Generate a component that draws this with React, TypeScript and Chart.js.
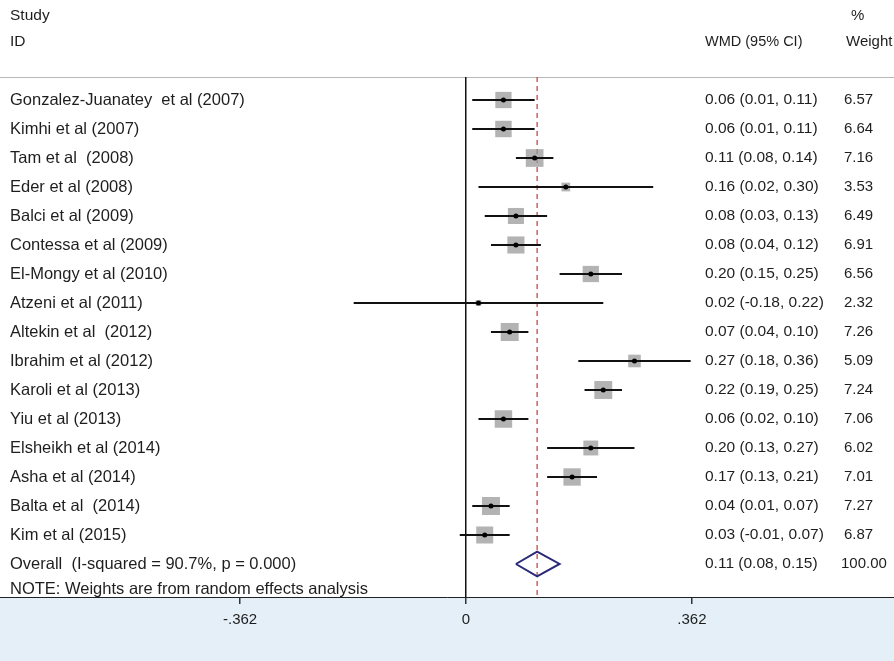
import React, { useEffect, useRef } from "react";
import { Chart, registerables } from "chart.js";

Chart.register(...registerables);

const studies = [
  "Gonzalez-Juanatey  et al (2007)",
  "Kimhi et al (2007)",
  "Tam et al  (2008)",
  "Eder et al (2008)",
  "Balci et al (2009)",
  "Contessa et al (2009)",
  "El-Mongy et al (2010)",
  "Atzeni et al (2011)",
  "Altekin et al  (2012)",
  "Ibrahim et al (2012)",
  "Karoli et al (2013)",
  "Yiu et al (2013)",
  "Elsheikh et al (2014)",
  "Asha et al (2014)",
  "Balta et al  (2014)",
  "Kim et al (2015)",
];
const wmd = [0.06, 0.06, 0.11, 0.16, 0.08, 0.08, 0.2, 0.02, 0.07, 0.27, 0.22, 0.06, 0.2, 0.17, 0.04, 0.03];
const lower = [0.01, 0.01, 0.08, 0.02, 0.03, 0.04, 0.15, -0.18, 0.04, 0.18, 0.19, 0.02, 0.13, 0.13, 0.01, -0.01];
const upper = [0.11, 0.11, 0.14, 0.3, 0.13, 0.12, 0.25, 0.22, 0.1, 0.36, 0.25, 0.1, 0.27, 0.21, 0.07, 0.07];
const weights = [6.57, 6.64, 7.16, 3.53, 6.49, 6.91, 6.56, 2.32, 7.26, 5.09, 7.24, 7.06, 6.02, 7.01, 7.27, 6.87];

const overallLabel = "Overall  (I-squared = 90.7%, p = 0.000)";
const overallEst = 0.114;
const overallLower = 0.08;
const overallUpper = 0.15;
const overallText = "0.11 (0.08, 0.15)";
const overallWeight = "100.00";
const noteText = "NOTE: Weights are from random effects analysis";

const xTickValues = [-0.362, 0, 0.362];
const xTickLabels = ["-.362", "0", ".362"];

const FONT = '"Liberation Sans", Arial, Helvetica, sans-serif';
const TEXT = "#1e1e1e";

const X_MIN = -0.7468;
const X_MAX = 0.6859;
const Y_MIN = -0.793;
const Y_MAX = 17.138;

const fmt = (v: number) => v.toFixed(2);

export default function App() {
  const ref = useRef<HTMLCanvasElement>(null);

  useEffect(() => {
    document.body.style.margin = "0";
    const canvas = ref.current!;
    const overallRow = studies.length;
    const noteRow = studies.length + 1;

    const datasets: any[] = [];
    datasets.push({
      type: "scatter",
      data: [
        { x: overallEst, y: Y_MIN },
        { x: overallEst, y: Y_MAX },
      ],
      showLine: true,
      borderColor: "#c44a45",
      borderWidth: 1.3,
      borderDash: [5, 4],
      pointRadius: 0,
      order: 5,
    });
    datasets.push({
      type: "scatter",
      data: wmd.map((v, i) => ({ x: v, y: i })),
      pointStyle: "rect",
      pointRadius: (c: any) => weights[c.dataIndex] * 1.75,
      backgroundColor: "rgba(150,150,150,0.72)",
      borderWidth: 0,
      order: 4,
    });
    studies.forEach((_, i) => {
      datasets.push({
        type: "scatter",
        data: [
          { x: lower[i], y: i },
          { x: upper[i], y: i },
        ],
        showLine: true,
        borderColor: "#111",
        borderWidth: 2,
        pointRadius: 0,
        order: 3,
      });
    });
    datasets.push({
      type: "scatter",
      data: wmd.map((v, i) => ({ x: v, y: i })),
      pointStyle: "circle",
      pointRadius: 2.5,
      backgroundColor: "#000",
      borderWidth: 0,
      order: 2,
    });
    const dh = 0.43;
    datasets.push({
      type: "scatter",
      data: [
        { x: overallLower, y: overallRow },
        { x: overallEst, y: overallRow - dh },
        { x: overallUpper, y: overallRow },
        { x: overallEst, y: overallRow + dh },
        { x: overallLower, y: overallRow },
      ],
      showLine: true,
      borderColor: "#2a2878",
      borderWidth: 2,
      pointRadius: 0,
      tension: 0,
      order: 1,
    });

    const bgPlugin = {
      id: "bg",
      beforeDraw(chart: any) {
        const { ctx, width, height, chartArea } = chart;
        ctx.save();
        ctx.fillStyle = "#ffffff";
        ctx.fillRect(0, 0, width, height);
        ctx.fillStyle = "#e4eff7";
        ctx.fillRect(0, chartArea.bottom, width, height - chartArea.bottom);
        ctx.strokeStyle = "#b8b8b8";
        ctx.lineWidth = 1;
        ctx.beginPath();
        ctx.moveTo(0, chartArea.top + 0.5);
        ctx.lineTo(width, chartArea.top + 0.5);
        ctx.stroke();
        ctx.restore();
      },
    };

    const textPlugin = {
      id: "texts",
      afterDraw(chart: any) {
        const { ctx } = chart;
        const y = chart.scales.y;
        ctx.save();
        ctx.fillStyle = TEXT;
        ctx.textBaseline = "middle";
        ctx.textAlign = "left";
        ctx.font = `15.5px ${FONT}`;
        ctx.fillText("Study", 10, 16);
        ctx.fillText("ID", 10, 42);
        ctx.font = `14.5px ${FONT}`;
        ctx.fillText("WMD (95% CI)", 705, 42);
        ctx.font = `15px ${FONT}`;
        ctx.fillText("%", 851, 16);
        ctx.fillText("Weight", 846, 42);
        studies.forEach((s, i) => {
          const py = y.getPixelForValue(i);
          ctx.font = `16.5px ${FONT}`;
          ctx.fillText(s, 10, py);
          ctx.font = `15.5px ${FONT}`;
          ctx.fillText(`${fmt(wmd[i])} (${fmt(lower[i])}, ${fmt(upper[i])})`, 705, py);
          ctx.font = `15px ${FONT}`;
          ctx.fillText(fmt(weights[i]), 844, py);
        });
        const oy = y.getPixelForValue(overallRow);
        ctx.font = `16.5px ${FONT}`;
        ctx.fillText(overallLabel, 10, oy);
        ctx.font = `15.5px ${FONT}`;
        ctx.fillText(overallText, 705, oy);
        ctx.font = `15px ${FONT}`;
        ctx.fillText(overallWeight, 841, oy);
        ctx.font = `16.5px ${FONT}`;
        ctx.fillText(noteText, 10, y.getPixelForValue(noteRow) - 4);
        ctx.restore();
      },
    };

    const chart = new Chart(canvas, {
      type: "scatter",
      data: { datasets },
      plugins: [bgPlugin, textPlugin],
      options: {
        animation: false,
        responsive: false,
        layout: { autoPadding: false, padding: { top: 77, left: 0, right: 0, bottom: 0 } },
        plugins: { legend: { display: false }, tooltip: { enabled: false } },
        scales: {
          x: {
            type: "linear",
            min: X_MIN,
            max: X_MAX,
            afterBuildTicks: (s: any) => {
              s.ticks = xTickValues.map((value) => ({ value }));
            },
            afterFit: (s: any) => {
              s.height = 64;
              s.paddingLeft = 0;
              s.paddingRight = 0;
            },
            ticks: {
              autoSkip: false,
              maxRotation: 0,
              padding: 7,
              color: TEXT,
              font: { size: 15, family: FONT },
              callback: (_v: any, i: number) => xTickLabels[i],
            },
            grid: {
              drawOnChartArea: true,
              drawTicks: true,
              tickLength: 7,
              tickColor: "#333",
              color: (c: any) => (c.tick && c.tick.value === 0 ? "#111" : "rgba(0,0,0,0)"),
              lineWidth: 1.5,
            },
            border: { display: true, color: "#222", width: 1 },
          },
          y: {
            type: "linear",
            display: false,
            reverse: true,
            min: Y_MIN,
            max: Y_MAX,
          },
        },
      },
    });
    return () => chart.destroy();
  }, []);

  return (
    <div style={{ width: 894, height: 661 }}>
      <canvas ref={ref} width={894} height={661} style={{ display: "block" }} />
    </div>
  );
}
